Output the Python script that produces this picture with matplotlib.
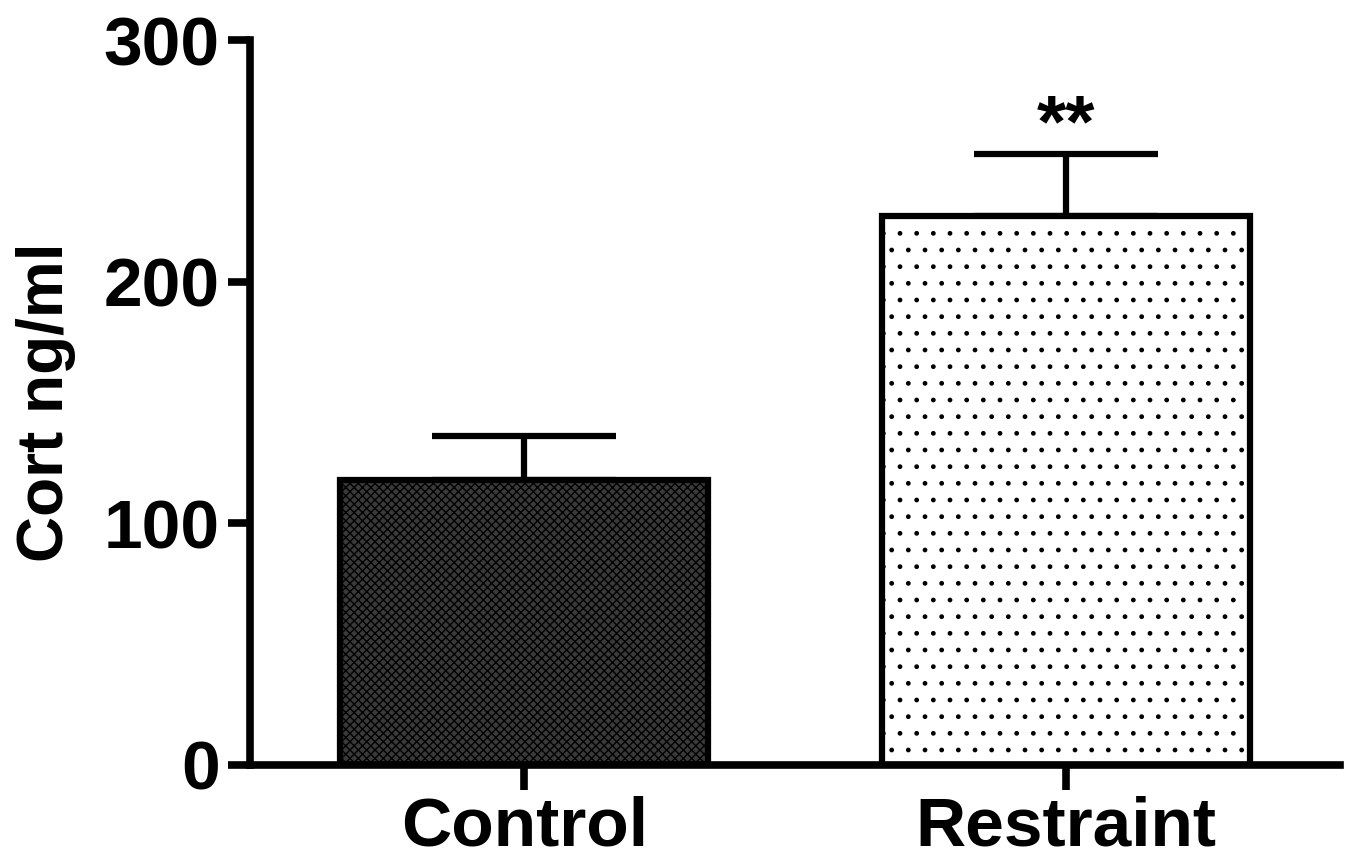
import matplotlib
matplotlib.use("Agg")
import matplotlib.pyplot as plt

groups = ["Control", "Restraint"]
means = [118, 227]
sems = [18, 26]
sig = ["", "**"]

plt.rcParams["font.family"] = ["Liberation Sans", "DejaVu Sans"]
plt.rcParams["font.weight"] = "bold"
plt.rcParams["hatch.linewidth"] = 1.0

fig = plt.figure(figsize=(13.52, 8.61), dpi=100)
ax = fig.add_axes([0.185, 0.1115, 0.806, 0.842])

x = range(len(groups))
ax.errorbar(x, means, yerr=[[0, 0], sems], fmt="none", ecolor="black",
            elinewidth=4.5, capsize=66, capthick=4.5, zorder=1)
bars = ax.bar(x, means, width=0.68, color=["#3a3a3a", "white"],
              edgecolor="black", linewidth=4.5, zorder=2)
bars[0].set_hatch("xxxx")
bars[1].set_hatch(".")

for xi, m, s, t in zip(x, means, sems, sig):
    if t:
        ax.text(xi, m + s - 3, t, ha="center", va="bottom",
                fontsize=54, fontweight="bold")

ax.set_xlim(-0.506, 1.506)
ax.set_ylim(0, 300)
ax.set_yticks([0, 100, 200, 300])
ax.set_xticks(list(x))
ax.set_xticklabels(groups)
ax.set_ylabel("Cort ng/ml", fontsize=46, fontweight="bold", labelpad=20)

for s in ["top", "right"]:
    ax.spines[s].set_visible(False)
for s in ["left", "bottom"]:
    ax.spines[s].set_linewidth(5.5)
ax.tick_params(axis="y", length=16, width=5.5, labelsize=50, pad=6)
ax.tick_params(axis="x", length=18, width=5.5, labelsize=50, pad=4)

fig.savefig("out.png", dpi=100)
